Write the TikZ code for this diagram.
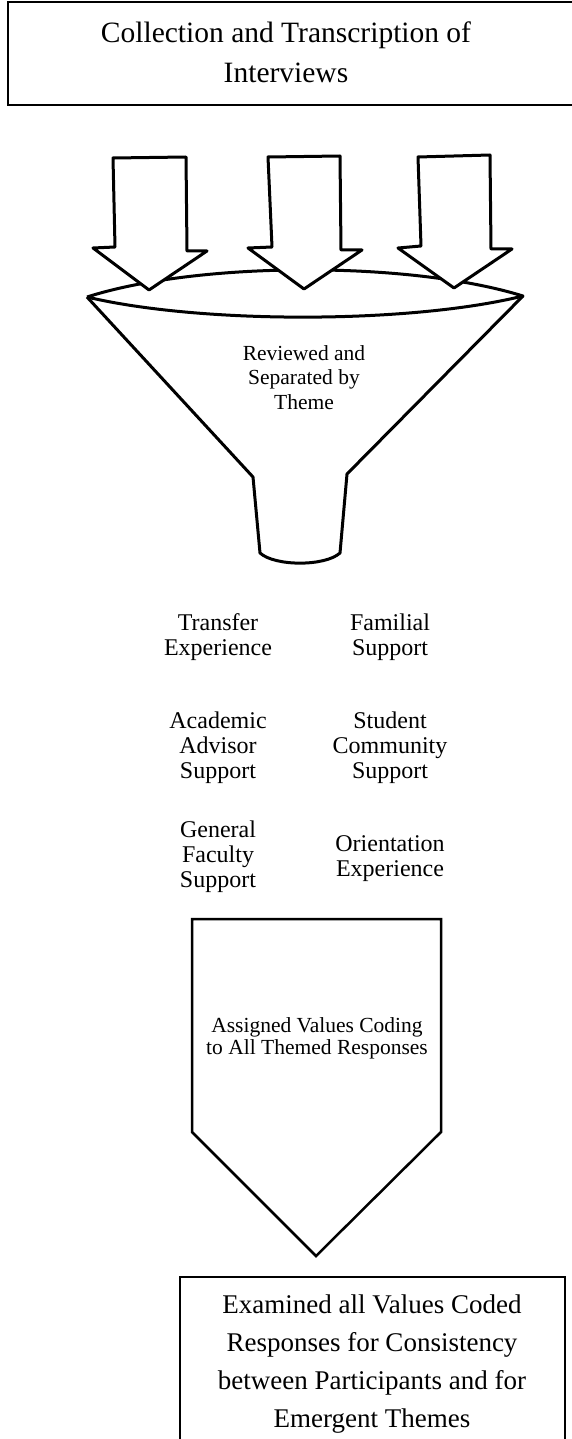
\documentclass[tikz,border=0pt]{standalone}
\usepackage{fontspec}
\setmainfont{Liberation Serif}
\newcommand\mylines[3]{\fontsize{#1}{#2}\selectfont\begin{tabular}[t]{@{}c@{}}#3\end{tabular}}
\begin{document}
\begin{tikzpicture}[x=1pt,y=-1pt,
  boxline/.style={draw=black,line width=2.2pt},
  shapeline/.style={draw=black,line width=3pt,line join=round},
  blockarrow/.style={shapeline,fill=white},
  txt/.style={anchor=base,inner sep=0pt,text=black}]
\useasboundingbox (0,0) rectangle (572,1439);
% top box
\draw[boxline] (8,2) rectangle (590,105);
\node[txt] (title) at (286,43) {\mylines{29.5}{40}{Collection and Transcription of\\Interviews}};
% funnel
\coordinate (lensL) at (87,297);
\coordinate (lensR) at (523,296);
\draw[shapeline] (lensL) -- (253,477) -- (260,553)
   .. controls (275,566.5) and (325,566.5) .. (340,553)
   -- (347,474) -- (lensR);
\draw[shapeline] (lensL) .. controls (200,261) and (410,261) .. (lensR)
   .. controls (410,324) and (200,324) .. (lensL);
\node[txt] (review) at (304,360) {\mylines{21.5}{24.5}{Reviewed and\\Separated by\\Theme}};
% three block arrows
\draw[blockarrow] (113,158) -- (186,157) -- (187,251) -- (207,251) -- (149,290) -- (93,248) -- (115,247) -- cycle;
\draw[blockarrow] (268,157) -- (340,156) -- (341,250) -- (362,250) -- (304,289) -- (248,248) -- (272,247) -- cycle;
\draw[blockarrow] (418,157) -- (490,155) -- (491,249) -- (512,249) -- (454,288) -- (398,248) -- (421,246) -- cycle;
% themes
\node[txt] (t1) at (218,630) {\mylines{24}{25}{Transfer\\Experience}};
\node[txt] (t2) at (390,630) {\mylines{24}{25}{Familial\\Support}};
\node[txt] (t3) at (218,728) {\mylines{24}{25}{Academic\\Advisor\\Support}};
\node[txt] (t4) at (390,728) {\mylines{24}{25}{Student\\Community\\Support}};
\node[txt] (t5) at (218,837) {\mylines{24}{25}{General\\Faculty\\Support}};
\node[txt] (t6) at (390,851) {\mylines{24}{25}{Orientation\\Experience}};
% pentagon arrow
\draw[line width=2.5pt,line join=miter] (192,919) -- (441,919) -- (441,1132) -- (316,1256) -- (192,1132) -- cycle;
\node[txt] (assign) at (317,1032) {\mylines{21.5}{22.5}{Assigned Values Coding\\to All Themed Responses}};
% bottom box
\draw[boxline] (180,1277) rectangle (565,1460);
\node[txt] (exam) at (372,1313) {\mylines{27}{38.3}{Examined all Values Coded\\Responses for Consistency\\between Participants and for\\Emergent Themes}};
\end{tikzpicture}
\end{document}
